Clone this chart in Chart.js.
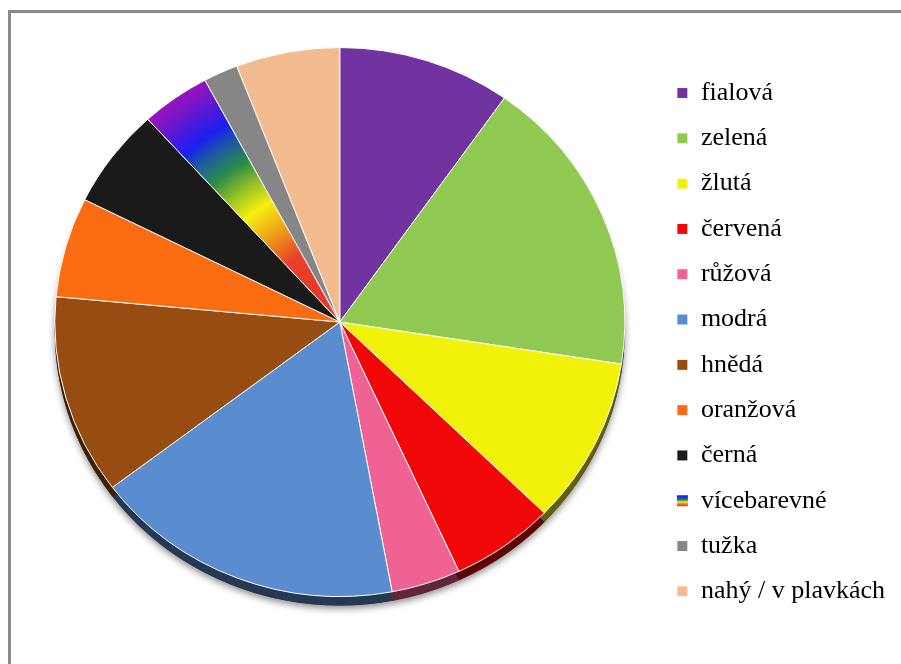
<!DOCTYPE html>
<html>
<head>
<meta charset="utf-8">
<script src="https://cdn.jsdelivr.net/npm/chart.js@4.4.1/dist/chart.umd.min.js"></script>
<style>
  html, body { margin: 0; padding: 0; background: #fff; }
  #wrap { position: relative; width: 901px; height: 664px; }
  #frame { position: absolute; left: 8px; top: 10px; right: 0; bottom: 0;
           border-top: 3px solid #8a8a8a; border-left: 3px solid #8a8a8a; pointer-events: none; }
</style>
</head>
<body>
<div id="wrap">
  <canvas id="c" width="901" height="664"></canvas>
  <div id="frame"></div>
</div>
<script>
// ---- data ----
const categories = ['fialová', 'zelená', 'žlutá', 'červená', 'růžová', 'modrá', 'hnědá', 'oranžová', 'černá', 'vícebarevné', 'tužka', 'nahý / v plavkách'];
const counts = [5, 9, 5, 3, 2, 9, 6, 3, 3, 2, 1, 3];
const sliceColors = ['#7033a0', '#8fc951', '#f0f20a', '#f10707', '#f06294', '#598dcf', '#974d12', '#fa6c12', '#1a1a1a', null, '#868686', '#f3bc90'];
const RAINBOW_INDEX = 9;

// ---- style constants ----
const RADIUS = 285;
const SQUASH = 0.963;
const DEPTH = 9;
const FONT = "'Liberation Serif', 'Times New Roman', serif";

function darken(hex, f) {
  const n = parseInt(hex.slice(1), 16);
  const r = Math.round(((n >> 16) & 255) * f), g = Math.round(((n >> 8) & 255) * f), b = Math.round((n & 255) * f);
  return 'rgb(' + r + ',' + g + ',' + b + ')';
}

function rainbowFill(c) {
  const ch = c.chart, a = ch.chartArea;
  if (!a) return '#f0f020';
  const cx = (a.left + a.right) / 2, cy = (a.top + a.bottom) / 2;
  const g = ch.ctx.createRadialGradient(cx, cy, 0, cx, cy, RADIUS);
  g.addColorStop(0.0, '#e8342c');
  g.addColorStop(0.28, '#e8402a');
  g.addColorStop(0.38, '#ee9418');
  g.addColorStop(0.50, '#f4f010');
  g.addColorStop(0.58, '#9cc424');
  g.addColorStop(0.67, '#2a8c48');
  g.addColorStop(0.75, '#1c5e9c');
  g.addColorStop(0.82, '#1a1ff0');
  g.addColorStop(0.97, '#8a14c0');
  g.addColorStop(1.0, '#9414c0');
  return g;
}

const depthPlugin = {
  id: 'depth3d',
  beforeDatasetsDraw(chart) {
    const arcs = chart.getDatasetMeta(0).data;
    const ctx = chart.ctx;
    ctx.save();
    if (!arcs.length) return;
    const cx = arcs[0].x, cy = arcs[0].y;
    ctx.translate(cx, cy); ctx.scale(1, SQUASH); ctx.translate(-cx, -cy);
    const r = arcs[0].outerRadius;
    const d = DEPTH / SQUASH;
    // soft drop shadow under the whole pie body
    ctx.save();
    ctx.shadowColor = 'rgba(0,0,0,0.45)';
    ctx.shadowBlur = 7;
    ctx.shadowOffsetY = 3;
    ctx.beginPath();
    ctx.arc(cx, cy + d, r, 0, Math.PI * 2);
    ctx.fillStyle = '#333';
    ctx.fill();
    ctx.restore();
    // coloured side walls
    arcs.forEach((arc, i) => {
      ctx.beginPath();
      ctx.moveTo(cx, cy + d);
      ctx.arc(cx, cy + d, r, arc.startAngle, arc.endAngle);
      ctx.closePath();
      ctx.fillStyle = darken(sliceColors[i] || '#d02030', 0.4);
      ctx.fill();
    });
  },
  afterDatasetsDraw(chart) {
    chart.ctx.restore();
  },
  afterDraw(chart) {
    // rainbow legend swatch
    const lg = chart.legend;
    if (!lg || !lg.legendHitBoxes || !lg.legendHitBoxes[RAINBOW_INDEX]) return;
    const hb = lg.legendHitBoxes[RAINBOW_INDEX];
    const fs = lg.options.labels.font.size;
    const bw = lg.options.labels.boxWidth, bh = lg.options.labels.boxHeight;
    const x = hb.left, y = hb.top + Math.max((fs - bh) / 2, 0);
    const ctx = chart.ctx;
    const g = ctx.createLinearGradient(0, y, 0, y + bh);
    g.addColorStop(0, '#2020f0');
    g.addColorStop(0.3, '#1a50c0');
    g.addColorStop(0.45, '#30a040');
    g.addColorStop(0.6, '#f0f010');
    g.addColorStop(0.8, '#f08020');
    g.addColorStop(1, '#f02828');
    ctx.save();
    ctx.fillStyle = '#fff';
    ctx.fillRect(x - 1, y - 1, bw + 2, bh + 2);
    ctx.fillStyle = g;
    ctx.fillRect(x, y, bw, bh);
    ctx.restore();
  }
};

new Chart(document.getElementById('c'), {
  type: 'pie',
  data: {
    labels: categories,
    datasets: [{
      data: counts,
      backgroundColor: (c) => c.dataIndex === RAINBOW_INDEX ? rainbowFill(c) : sliceColors[c.dataIndex],
      borderColor: '#ffffff',
      borderWidth: 1,
      radius: RADIUS
    }]
  },
  options: {
    responsive: false,
    animation: false,
    layout: { padding: { left: 22, right: 6, top: 0, bottom: 20 } },
    plugins: {
      tooltip: { enabled: false },
      legend: {
        position: 'right',
        align: 'center',
        title: { display: true, text: ' ', font: { size: 2 }, padding: { top: 38, bottom: 0 } },
        labels: {
          boxWidth: 11,
          boxHeight: 11,
          padding: 19.3,
          color: '#000000',
          font: { family: FONT, size: 26 }
        }
      }
    }
  },
  plugins: [depthPlugin]
});
</script>
</body>
</html>
